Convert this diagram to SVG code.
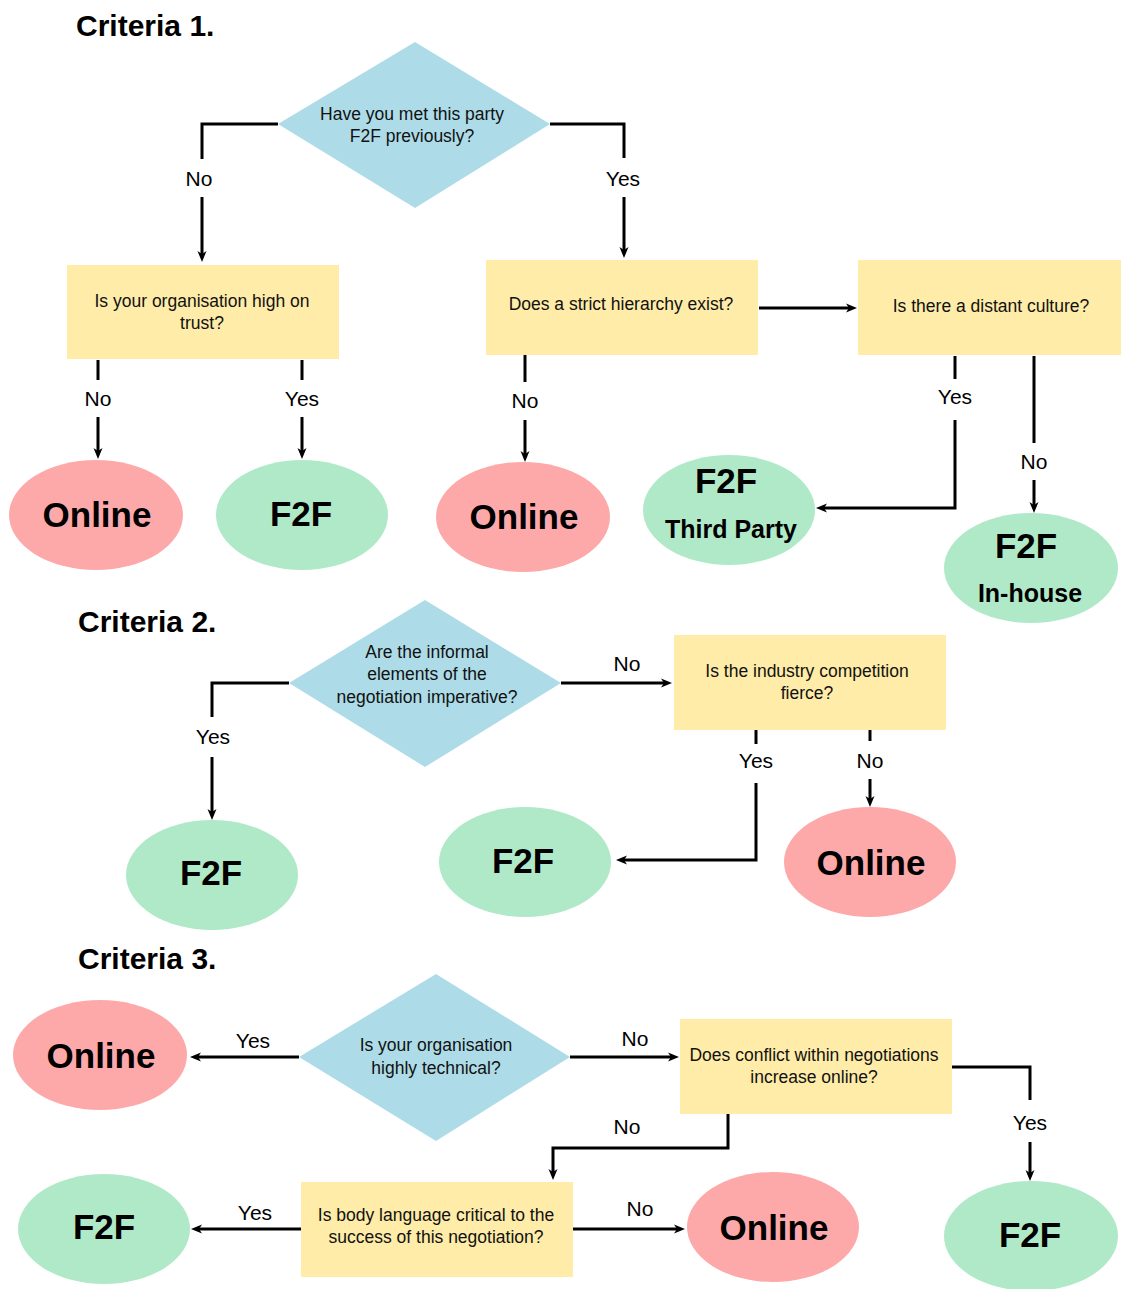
<svg xmlns="http://www.w3.org/2000/svg" width="1121" height="1289" viewBox="0 0 1121 1289">
  <style>
    text { font-family: "Liberation Sans", Arial, sans-serif; fill: #000; }
    .title { font-size: 30px; font-weight: bold; }
    .q { font-size: 17.5px; text-anchor: middle; fill: #111; }
    .res { font-size: 35px; font-weight: bold; text-anchor: middle; }
    .sub { font-size: 25px; font-weight: bold; text-anchor: middle; }
    .lbl { font-size: 21px; text-anchor: middle; }
    .lblbg { fill: #fff; }
    .dia { fill: #ADDCE8; }
    .box { fill: #FFECA8; }
    .online { fill: #FDA9A9; }
    .f2f { fill: #B0E9C8; }
    .edge { fill: none; stroke: #000; stroke-width: 3; marker-end: url(#arrow); }
  </style>
  <defs>
    <marker id="arrow" viewBox="0 0 11 10" markerWidth="11" markerHeight="10" refX="4" refY="5" orient="auto" markerUnits="userSpaceOnUse">
      <path d="M0,0.5 L11,5 L0,9.5 L3,5 Z" fill="#000"/>
    </marker>
  </defs>

  <!-- section headings -->
  <text class="title" x="76" y="36">Criteria 1.</text>
  <text class="title" x="78" y="632">Criteria 2.</text>
  <text class="title" x="78" y="969">Criteria 3.</text>

  <!-- connectors -->
  <g id="connectors">
    <path class="edge" d="M278,124 H202 V255"/>
    <path class="edge" d="M550,124 H624 V251"/>
    <path class="edge" d="M759,308 H850"/>
    <path class="edge" d="M98,360 V452"/>
    <path class="edge" d="M302,360 V452"/>
    <path class="edge" d="M525,355 V455"/>
    <path class="edge" d="M955,356 V508 H823"/>
    <path class="edge" d="M1034,356 V506"/>

    <path class="edge" d="M289,683 H212 V813"/>
    <path class="edge" d="M561,683 H665"/>
    <path class="edge" d="M756,730 V860 H623"/>
    <path class="edge" d="M870,730 V800"/>

    <path class="edge" d="M299,1057 H197"/>
    <path class="edge" d="M570,1057 H672"/>
    <path class="edge" d="M952,1067 H1030 V1174"/>
    <path class="edge" d="M728,1114 V1148 H553 V1173"/>
    <path class="edge" d="M301,1229 H198"/>
    <path class="edge" d="M573,1229 H678"/>
  </g>

  <!-- connector labels -->
  <g id="edge-labels">
    <rect class="lblbg" x="183" y="159" width="32" height="38"/>
    <text class="lbl" x="199" y="186">No</text>
    <rect class="lblbg" x="603" y="158" width="40" height="39"/>
    <text class="lbl" x="623" y="186">Yes</text>
    <rect class="lblbg" x="82" y="380" width="32" height="37"/>
    <text class="lbl" x="98" y="406">No</text>
    <rect class="lblbg" x="282" y="380" width="40" height="37"/>
    <text class="lbl" x="302" y="406">Yes</text>
    <rect class="lblbg" x="509" y="382" width="32" height="38"/>
    <text class="lbl" x="525" y="408">No</text>
    <rect class="lblbg" x="935" y="379" width="40" height="41"/>
    <text class="lbl" x="955" y="404">Yes</text>
    <rect class="lblbg" x="1018" y="443" width="32" height="37"/>
    <text class="lbl" x="1034" y="469">No</text>

    <rect class="lblbg" x="193" y="717" width="40" height="40"/>
    <text class="lbl" x="213" y="744">Yes</text>
    <text class="lbl" x="627" y="671">No</text>
    <rect class="lblbg" x="736" y="744" width="40" height="39"/>
    <text class="lbl" x="756" y="768">Yes</text>
    <rect class="lblbg" x="854" y="741" width="32" height="38"/>
    <text class="lbl" x="870" y="768">No</text>

    <text class="lbl" x="253" y="1048">Yes</text>
    <text class="lbl" x="635" y="1046">No</text>
    <rect class="lblbg" x="1010" y="1100" width="40" height="42"/>
    <text class="lbl" x="1030" y="1130">Yes</text>
    <text class="lbl" x="627" y="1134">No</text>
    <text class="lbl" x="255" y="1220">Yes</text>
    <text class="lbl" x="640" y="1216">No</text>
  </g>

  <!-- Criteria 1 -->
  <g id="met-f2f">
    <polygon class="dia" points="415,42 550,124 415,208 278,124"/>
    <text class="q" x="412" y="120">Have you met this party</text>
    <text class="q" x="412" y="142">F2F previously?</text>
  </g>
  <g id="trust">
    <rect class="box" x="67" y="265" width="272" height="94"/>
    <text class="q" x="202" y="307">Is your organisation high on</text>
    <text class="q" x="202" y="329">trust?</text>
  </g>
  <g id="hierarchy">
    <rect class="box" x="486" y="260" width="272" height="95"/>
    <text class="q" x="621" y="310">Does a strict hierarchy exist?</text>
  </g>
  <g id="culture">
    <rect class="box" x="858" y="260" width="263" height="95"/>
    <text class="q" x="991" y="312">Is there a distant culture?</text>
  </g>
  <g id="c1-online-a">
    <ellipse class="online" cx="96" cy="515" rx="87" ry="55"/>
    <text class="res" x="97" y="527">Online</text>
  </g>
  <g id="c1-f2f">
    <ellipse class="f2f" cx="302" cy="515" rx="86" ry="55"/>
    <text class="res" x="301" y="526">F2F</text>
  </g>
  <g id="c1-online-b">
    <ellipse class="online" cx="523" cy="517" rx="87" ry="55"/>
    <text class="res" x="524" y="529">Online</text>
  </g>
  <g id="f2f-third-party">
    <ellipse class="f2f" cx="729" cy="510" rx="86" ry="55"/>
    <text class="res" x="726" y="493">F2F</text>
    <text class="sub" x="731" y="538">Third Party</text>
  </g>
  <g id="f2f-in-house">
    <ellipse class="f2f" cx="1031" cy="568" rx="87" ry="55"/>
    <text class="res" x="1026" y="558">F2F</text>
    <text class="sub" x="1030" y="602">In-house</text>
  </g>

  <!-- Criteria 2 -->
  <g id="informal">
    <polygon class="dia" points="425,600 561,683 425,767 289,683"/>
    <text class="q" x="427" y="658">Are the informal</text>
    <text class="q" x="427" y="680">elements of the</text>
    <text class="q" x="427" y="703">negotiation imperative?</text>
  </g>
  <g id="competition">
    <rect class="box" x="674" y="635" width="272" height="95"/>
    <text class="q" x="807" y="677">Is the industry competition</text>
    <text class="q" x="807" y="699">fierce?</text>
  </g>
  <g id="c2-f2f-a">
    <ellipse class="f2f" cx="212" cy="875" rx="86" ry="55"/>
    <text class="res" x="211" y="885">F2F</text>
  </g>
  <g id="c2-f2f-b">
    <ellipse class="f2f" cx="525" cy="862" rx="86" ry="55"/>
    <text class="res" x="523" y="873">F2F</text>
  </g>
  <g id="c2-online">
    <ellipse class="online" cx="870" cy="862" rx="86" ry="55"/>
    <text class="res" x="871" y="875">Online</text>
  </g>

  <!-- Criteria 3 -->
  <g id="technical">
    <polygon class="dia" points="436,974 570,1057 436,1141 299,1057"/>
    <text class="q" x="436" y="1051">Is your organisation</text>
    <text class="q" x="436" y="1074">highly technical?</text>
  </g>
  <g id="conflict">
    <rect class="box" x="680" y="1019" width="272" height="95"/>
    <text class="q" x="814" y="1061">Does conflict within negotiations</text>
    <text class="q" x="814" y="1083">increase online?</text>
  </g>
  <g id="body-language">
    <rect class="box" x="301" y="1182" width="272" height="95"/>
    <text class="q" x="436" y="1221">Is body language critical to the</text>
    <text class="q" x="436" y="1243">success of this negotiation?</text>
  </g>
  <g id="c3-online-a">
    <ellipse class="online" cx="100" cy="1055" rx="87" ry="55"/>
    <text class="res" x="101" y="1068">Online</text>
  </g>
  <g id="c3-f2f-a">
    <ellipse class="f2f" cx="1031" cy="1236" rx="87" ry="55"/>
    <text class="res" x="1030" y="1247">F2F</text>
  </g>
  <g id="c3-f2f-b">
    <ellipse class="f2f" cx="104" cy="1229" rx="86" ry="55"/>
    <text class="res" x="104" y="1239">F2F</text>
  </g>
  <g id="c3-online-b">
    <ellipse class="online" cx="773" cy="1227" rx="86" ry="55"/>
    <text class="res" x="774" y="1240">Online</text>
  </g>
</svg>
